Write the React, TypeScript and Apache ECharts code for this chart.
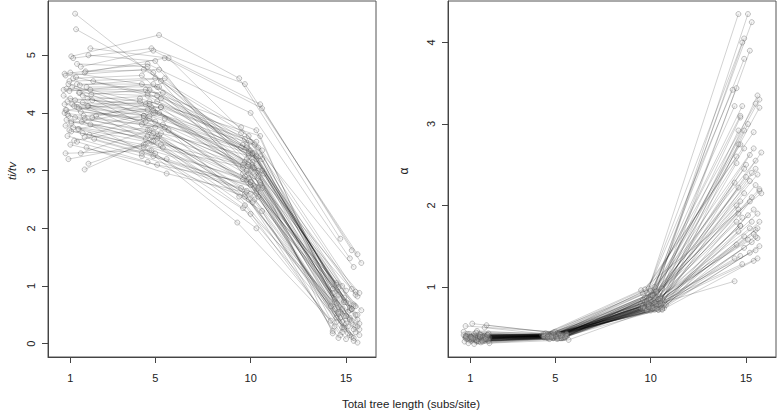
import React, { useEffect, useRef } from "react";
import * as echarts from "echarts";

// tick positions on the (jittered) x scale and their labels
const xTickValues = [0.55, 5, 10, 15];
const xTickLabels = ["1", "5", "10", "15"];
const tiTicks = [0, 1, 2, 3, 4, 5];
const alphaTicks = [1, 2, 3, 4];

// ti/tv panel: each row = one replicate, x positions (jittered) at the 4 tree lengths
const tiX = [
  [0.8, 5.3, 10.1, 15.2], [0.85, 4.9, 9.8, 14.8], [1.6, 5.7, 10.6, 15.5], [0.6, 5.2, 9.4, 14.7],
  [0.7, 4.8, 9.7, 15.6], [1.1, 4.9, 10.5, 15.3], [1.3, 5.5, 10.6, 15.8], [0.25, 4.6, 10.0, 15.2],
  [0.3, 4.4, 9.5, 15.4], [0.5, 5.0, 9.9, 14.3], [0.9, 4.3, 9.6, 14.5], [1.4, 5.1, 10.4, 14.6],
  [0.35, 4.7, 10.2, 14.9], [0.2, 5.4, 9.9, 15.1], [1.0, 4.6, 10.3, 15.4], [1.2, 4.2, 9.7, 14.4],
  [0.55, 4.5, 10.1, 14.7], [1.7, 5.3, 9.6, 15.6], [0.4, 4.8, 10.0, 15.3], [0.65, 4.9, 9.9, 15.0],
  [1.5, 5.2, 10.2, 14.4], [0.9, 4.4, 9.8, 14.9], [0.3, 4.7, 10.5, 15.5], [1.1, 5.0, 10.0, 15.2],
  [0.25, 4.3, 9.5, 14.6], [0.45, 5.5, 10.3, 15.4], [0.8, 4.6, 9.7, 15.6], [1.3, 4.9, 10.4, 14.8],
  [0.35, 5.1, 9.9, 15.1], [0.6, 4.5, 10.1, 14.5], [1.6, 4.8, 9.6, 15.3], [0.7, 5.3, 10.6, 14.3],
  [1.0, 4.4, 9.3, 14.2], [0.5, 4.7, 10.0, 15.7], [1.2, 5.0, 10.3, 15.0], [0.4, 4.3, 9.8, 14.7],
  [1.8, 5.6, 10.2, 15.5], [0.9, 4.6, 9.7, 14.9], [0.55, 5.1, 10.5, 15.2], [1.4, 5.6, 10.0, 14.6],
  [0.3, 4.8, 9.9, 15.4], [0.45, 4.5, 10.4, 14.4], [1.5, 4.9, 10.1, 15.7], [1.3, 5.2, 9.6, 15.6],
  [1.1, 4.7, 10.6, 15.0], [0.75, 5.4, 10.3, 14.8], [1.55, 4.4, 9.9, 14.5], [0.95, 5.0, 9.8, 15.3],
  [0.6, 4.6, 10.2, 15.5], [1.25, 5.3, 10.0, 14.9], [0.35, 4.7, 9.7, 15.2], [1.45, 4.2, 10.5, 14.6],
  [0.8, 5.1, 9.5, 15.6], [1.65, 4.5, 10.3, 15.1], [0.5, 4.9, 9.9, 14.3], [1.05, 5.5, 10.1, 15.4],
  [0.7, 4.3, 9.8, 14.8], [1.35, 5.2, 10.4, 15.7], [0.9, 4.6, 10.0, 14.5], [1.5, 5.0, 9.6, 15.3],
  [0.2, 4.8, 10.2, 15.0], [1.9, 5.4, 9.7, 14.7], [0.65, 4.4, 10.6, 15.5], [1.2, 5.7, 9.4, 14.2],
  [0.4, 4.9, 10.3, 15.8], [1.75, 4.6, 10.0, 14.9], [0.85, 5.3, 9.9, 15.2], [1.0, 4.5, 10.7, 14.4],
  [0.3, 5.1, 9.6, 15.6], [1.6, 4.7, 10.1, 14.6], [0.55, 5.2, 9.8, 15.1], [1.3, 4.3, 10.4, 15.4],
  [0.75, 5.0, 10.2, 14.8], [1.15, 4.6, 9.7, 15.3], [0.45, 4.9, 10.5, 14.5], [1.45, 5.5, 9.9, 15.0],
  [0.6, 4.4, 10.0, 15.7], [1.05, 5.3, 10.6, 14.9], [0.25, 4.7, 9.5, 15.5], [1.7, 5.1, 10.3, 14.3],
];
const tiY = [
  [5.72, 4.55, 3.3, 0.45], [5.45, 4.7, 3.2, 0.6], [5.12, 4.95, 3.35, 0.9], [4.98, 5.35, 4.6, 1.82],
  [4.95, 5.12, 4.5, 1.55], [4.8, 5.08, 4.15, 1.62], [4.7, 4.95, 4.08, 1.4], [4.68, 4.85, 4.0, 1.48],
  [4.65, 4.75, 3.75, 1.33], [4.55, 4.6, 3.6, 0.95], [4.5, 4.5, 3.45, 1.05], [4.45, 4.45, 3.4, 0.85],
  [4.42, 4.4, 3.3, 0.75], [4.4, 4.35, 3.25, 0.7], [4.35, 4.3, 3.2, 0.65], [4.3, 4.2, 3.15, 0.6],
  [4.25, 4.15, 3.1, 0.55], [4.22, 4.1, 3.05, 0.5], [4.2, 4.1, 3.0, 0.4], [4.15, 4.05, 2.95, 0.35],
  [4.12, 4.0, 2.9, 0.3], [4.1, 3.95, 2.85, 0.25], [4.05, 3.9, 2.8, 0.2], [4.02, 3.85, 2.75, 0.15],
  [4.0, 3.8, 2.7, 0.1], [3.95, 3.75, 2.65, 0.05], [3.92, 3.7, 2.6, 0.02], [3.9, 3.65, 2.55, 0.28],
  [3.88, 3.6, 2.5, 0.18], [3.85, 3.55, 2.45, 0.38], [3.8, 3.5, 2.35, 0.12], [3.75, 3.45, 2.3, 0.22],
  [3.72, 3.4, 2.1, 0.4], [3.7, 3.35, 2.25, 0.25], [3.65, 3.3, 2.0, 0.08], [3.6, 3.25, 2.65, 0.45],
  [3.55, 3.2, 2.7, 0.32], [3.5, 3.15, 2.55, 0.48], [3.45, 3.1, 2.75, 0.58], [3.4, 2.95, 2.6, 0.52],
  [3.3, 3.35, 2.85, 0.68], [3.2, 3.45, 3.0, 0.78], [3.12, 3.5, 3.05, 0.88], [3.02, 3.6, 3.1, 0.82],
  [3.3, 3.7, 3.2, 0.92], [3.52, 3.8, 3.25, 1.0], [3.62, 3.9, 3.35, 1.02], [3.72, 4.0, 3.4, 0.95],
  [3.82, 4.05, 3.45, 0.85], [3.95, 4.1, 3.5, 0.72], [4.05, 4.2, 3.55, 0.62], [4.12, 4.25, 3.6, 0.55],
  [4.22, 4.3, 3.65, 0.42], [4.32, 4.4, 3.7, 0.3], [4.38, 4.5, 3.3, 0.18], [4.48, 4.6, 3.15, 0.1],
  [4.6, 4.65, 3.0, 0.2], [4.72, 4.75, 2.9, 0.35], [4.85, 4.8, 2.8, 0.45], [5.0, 4.9, 2.95, 0.6],
  [4.3, 3.6, 2.5, 0.72], [3.95, 3.4, 2.4, 0.15], [4.45, 3.95, 3.0, 0.5], [4.18, 3.7, 2.55, 0.65],
  [3.98, 3.25, 2.6, 0.58], [4.55, 4.35, 3.35, 0.8], [4.62, 4.25, 3.1, 0.42], [4.08, 3.85, 2.95, 0.72],
  [3.78, 3.55, 2.85, 0.3], [4.4, 4.15, 3.3, 0.98], [4.7, 4.45, 3.45, 0.55], [3.58, 3.3, 2.7, 0.25],
  [4.12, 3.75, 3.05, 0.38], [3.85, 3.6, 2.9, 0.6], [4.5, 4.0, 3.25, 0.7], [4.25, 3.9, 3.15, 0.48],
  [3.68, 3.45, 2.8, 0.15], [4.35, 3.65, 2.7, 0.28], [4.15, 3.95, 3.4, 0.65], [3.92, 4.2, 3.5, 0.88],
];

// alpha panel
const alphaX = [
  [0.6, 4.9, 9.9, 14.6], [1.0, 5.2, 10.3, 15.1], [0.4, 4.6, 10.1, 15.3], [1.3, 5.5, 10.2, 14.9],
  [0.8, 4.8, 9.8, 14.8], [0.3, 5.1, 10.5, 15.2], [1.5, 4.4, 10.0, 14.9], [0.5, 5.3, 9.7, 14.3],
  [1.1, 4.7, 10.4, 14.5], [0.7, 5.0, 9.9, 14.4], [1.4, 5.6, 10.6, 15.6], [0.2, 4.5, 10.1, 15.7],
  [0.9, 4.9, 9.6, 15.5], [1.2, 5.2, 10.3, 15.7], [0.45, 4.6, 9.8, 14.8], [0.85, 5.4, 10.2, 14.7],
  [1.35, 4.8, 10.7, 15.1], [0.55, 5.0, 9.9, 14.9], [1.05, 4.3, 10.4, 14.6], [0.3, 5.5, 10.0, 14.7],
  [1.5, 4.7, 9.7, 15.4], [0.75, 5.1, 10.5, 15.8], [0.95, 4.5, 10.1, 15.2], [0.25, 5.3, 9.5, 15.5],
  [1.25, 4.9, 10.3, 14.5], [0.65, 4.4, 9.8, 14.9], [1.45, 5.6, 10.6, 15.5], [0.35, 5.0, 10.0, 15.6],
  [1.15, 4.6, 9.6, 15.2], [0.8, 5.2, 10.4, 14.4], [0.5, 4.8, 9.9, 14.6], [1.3, 5.4, 10.2, 15.5],
  [0.6, 4.5, 10.7, 15.7], [1.0, 5.1, 9.7, 14.9], [0.4, 4.7, 10.3, 15.3], [1.55, 5.5, 10.0, 14.7],
  [0.7, 4.9, 9.5, 14.5], [1.2, 4.4, 10.5, 15.4], [0.3, 5.3, 9.8, 14.6], [0.9, 4.6, 10.1, 15.6],
  [1.4, 5.0, 10.6, 15.1], [0.55, 5.6, 9.9, 14.8], [1.1, 4.8, 10.2, 15.3], [0.45, 5.2, 9.6, 14.5],
  [0.85, 4.5, 10.4, 15.7], [1.3, 5.4, 10.0, 14.7], [0.65, 4.7, 9.7, 15.2], [1.0, 5.1, 10.3, 15.5],
  [0.35, 4.4, 10.7, 14.6], [1.5, 5.3, 9.8, 15.4], [0.75, 4.9, 10.1, 14.9], [1.2, 4.6, 10.5, 15.6],
  [0.5, 5.5, 9.9, 15.1], [0.95, 5.0, 10.2, 15.3], [1.35, 4.8, 9.6, 14.5], [0.6, 5.2, 10.6, 15.7],
  [1.05, 4.5, 10.0, 14.9], [0.4, 5.4, 9.7, 15.5], [1.45, 4.7, 10.4, 15.2], [0.8, 5.1, 10.3, 14.7],
  [1.25, 4.9, 9.8, 15.6], [0.3, 5.6, 10.1, 14.4], [0.7, 4.4, 10.6, 15.4], [1.15, 5.3, 9.9, 14.8],
  [0.55, 4.8, 10.5, 14.4], [0.3, 5.0, 10.0, 14.7], [0.65, 4.9, 10.2, 14.6], [1.4, 5.2, 10.6, 15.0],
  [1.3, 4.6, 9.7, 14.5], [0.9, 5.4, 10.3, 15.3], [0.2, 4.5, 9.5, 15.8], [1.55, 5.7, 10.8, 15.6],
  [0.75, 4.7, 9.8, 15.2], [1.1, 5.1, 10.4, 15.0], [0.45, 5.5, 10.1, 14.9], [1.5, 4.4, 9.6, 15.4],
  [0.85, 5.3, 10.5, 14.6], [1.2, 4.8, 9.9, 15.5], [0.6, 5.6, 10.2, 14.7], [1.35, 4.6, 10.0, 15.7],
];
const alphaY = [
  [0.38, 0.4, 0.98, 4.35], [0.36, 0.42, 0.95, 4.35], [0.4, 0.41, 0.92, 4.25], [0.37, 0.39, 0.9, 4.05],
  [0.35, 0.4, 0.93, 4.0], [0.39, 0.43, 0.88, 3.9], [0.34, 0.38, 0.9, 3.8], [0.42, 0.41, 0.87, 3.42],
  [0.38, 0.4, 0.91, 3.44], [0.36, 0.39, 0.86, 3.22], [0.4, 0.42, 0.85, 3.35], [0.41, 0.4, 0.89, 3.3],
  [0.33, 0.37, 0.84, 3.25], [0.37, 0.41, 0.87, 3.2], [0.39, 0.4, 0.83, 3.22], [0.35, 0.38, 0.86, 3.08],
  [0.38, 0.42, 0.82, 3.0], [0.36, 0.39, 0.85, 2.92], [0.42, 0.41, 0.84, 2.92], [0.38, 0.4, 0.88, 2.75],
  [0.34, 0.38, 0.81, 2.7], [0.4, 0.42, 0.83, 2.65], [0.37, 0.39, 0.8, 2.62], [0.33, 0.37, 0.79, 2.55],
  [0.39, 0.41, 0.82, 2.52], [0.36, 0.4, 0.78, 2.45], [0.41, 0.43, 0.8, 2.45], [0.38, 0.39, 0.81, 2.38],
  [0.35, 0.38, 0.77, 2.3], [0.4, 0.41, 0.79, 2.28], [0.37, 0.39, 0.8, 2.22], [0.34, 0.37, 0.76, 2.25],
  [0.39, 0.4, 0.78, 2.18], [0.36, 0.38, 0.75, 2.15], [0.42, 0.41, 0.79, 2.1], [0.38, 0.4, 0.77, 2.05],
  [0.35, 0.38, 0.74, 2.0], [0.4, 0.39, 0.76, 1.95], [0.37, 0.41, 0.78, 1.95], [0.34, 0.37, 0.73, 1.9],
  [0.39, 0.4, 0.75, 1.88], [0.36, 0.39, 0.77, 1.85], [0.41, 0.42, 0.74, 1.8], [0.38, 0.4, 0.76, 1.8],
  [0.35, 0.38, 0.72, 1.8], [0.4, 0.41, 0.75, 1.75], [0.37, 0.39, 0.73, 1.72], [0.33, 0.37, 0.77, 1.7],
  [0.39, 0.4, 0.74, 1.68], [0.36, 0.38, 0.72, 1.65], [0.42, 0.41, 0.76, 1.62], [0.38, 0.39, 0.73, 1.6],
  [0.35, 0.38, 0.75, 1.58], [0.4, 0.4, 0.72, 1.55], [0.37, 0.39, 0.74, 1.52], [0.34, 0.37, 0.73, 1.5],
  [0.39, 0.41, 0.71, 1.48], [0.36, 0.38, 0.74, 1.45], [0.41, 0.4, 0.72, 1.42], [0.38, 0.39, 0.73, 1.38],
  [0.35, 0.38, 0.71, 1.35], [0.4, 0.42, 0.74, 1.35], [0.37, 0.39, 0.72, 1.32], [0.34, 0.37, 0.75, 1.28],
  [0.39, 0.4, 0.8, 1.07], [0.52, 0.45, 0.95, 3.1], [0.55, 0.44, 1.0, 2.75], [0.53, 0.43, 0.98, 2.5],
  [0.5, 0.42, 0.97, 2.6], [0.46, 0.41, 0.94, 2.4], [0.45, 0.43, 0.96, 2.15], [0.31, 0.35, 0.78, 1.72],
  [0.3, 0.36, 0.82, 2.05], [0.32, 0.36, 0.85, 2.35], [0.31, 0.38, 0.9, 2.7], [0.43, 0.42, 0.92, 2.9],
  [0.44, 0.4, 0.86, 1.9], [0.33, 0.38, 0.79, 1.62], [0.38, 0.4, 0.81, 1.75], [0.36, 0.39, 0.84, 2.2],
];

const FONT = "'Liberation Sans', Arial, Helvetica, sans-serif";

function makeSeries(xs: number[][], ys: number[][], axisIndex: number) {
  return xs.map((row, i) => ({
    type: "line",
    xAxisIndex: axisIndex,
    yAxisIndex: axisIndex,
    data: row.map((x, j) => [x, ys[i][j]]),
    symbol: "circle",
    symbolSize: 5,
    showSymbol: true,
    silent: true,
    lineStyle: { color: "rgba(0,0,0,0.18)", width: 1 },
    itemStyle: {
      color: "rgba(200,200,200,0.2)",
      borderColor: "rgba(70,70,70,0.4)",
      borderWidth: 0.8,
    },
    z: 2,
  }));
}

function xAxisCfg(gridIndex: number) {
  return {
    type: "value",
    gridIndex,
    min: -0.62,
    max: 16.57,
    axisLine: { show: true, onZero: false, lineStyle: { color: "#444", width: 1 } },
    axisTick: { show: true, customValues: xTickValues, length: 6, lineStyle: { color: "#444" } },
    axisLabel: {
      customValues: xTickValues,
      formatter: (v: number) => {
        let best = 0;
        xTickValues.forEach((t, k) => {
          if (Math.abs(t - v) < Math.abs(xTickValues[best] - v)) best = k;
        });
        return xTickLabels[best];
      },
      margin: 15,
      fontSize: 11,
      color: "#222",
      fontFamily: FONT,
    },
    splitLine: { show: false },
  };
}

function yAxisCfg(gridIndex: number, min: number, max: number, ticks: number[]) {
  return {
    type: "value",
    gridIndex,
    min,
    max,
    axisLine: { show: true, onZero: false, lineStyle: { color: "#444", width: 1 } },
    axisTick: { show: true, customValues: ticks, length: 6, lineStyle: { color: "#444" } },
    axisLabel: {
      customValues: ticks,
      formatter: (v: number) => String(Math.round(v)),
      rotate: 90,
      margin: 12,
      fontSize: 11,
      color: "#222",
      fontFamily: FONT,
    },
    splitLine: { show: false },
  };
}

export default function App() {
  const ref = useRef<HTMLDivElement>(null);
  useEffect(() => {
    if (!ref.current) return;
    const chart = echarts.init(ref.current, undefined, { renderer: "svg" });
    chart.setOption({
      animation: false,
      backgroundColor: "#fff",
      grid: [
        { left: 48, top: 1, width: 328, height: 356, show: true, borderColor: "#555", borderWidth: 1 },
        { left: 448, top: 1, width: 328, height: 356, show: true, borderColor: "#555", borderWidth: 1 },
      ],
      xAxis: [xAxisCfg(0), xAxisCfg(1)],
      yAxis: [yAxisCfg(0, -0.23, 5.94, tiTicks), yAxisCfg(1, 0.14, 4.51, alphaTicks)],
      graphic: [
        {
          type: "text",
          x: 12,
          y: 171,
          rotation: Math.PI / 2,
          style: {
            text: "ti/tv",
            fontStyle: "italic",
            fontSize: 11.5,
            fontFamily: FONT,
            fill: "#222",
            align: "center",
            verticalAlign: "middle",
          },
        },
        {
          type: "text",
          x: 404,
          y: 171,
          rotation: Math.PI / 2,
          style: {
            text: "α",
            fontSize: 12,
            fontFamily: FONT,
            fill: "#222",
            align: "center",
            verticalAlign: "middle",
          },
        },
        {
          type: "text",
          x: 411,
          y: 404,
          style: {
            text: "Total tree length (subs/site)",
            fontSize: 11.5,
            fontFamily: FONT,
            fill: "#222",
            align: "center",
            verticalAlign: "middle",
          },
        },
      ],
      series: [...makeSeries(tiX, tiY, 0), ...makeSeries(alphaX, alphaY, 1)],
    });
    return () => chart.dispose();
  }, []);
  return (
    <div
      ref={ref}
      style={{ position: "fixed", left: 0, top: 0, width: 778, height: 412, background: "#fff" }}
    />
  );
}
